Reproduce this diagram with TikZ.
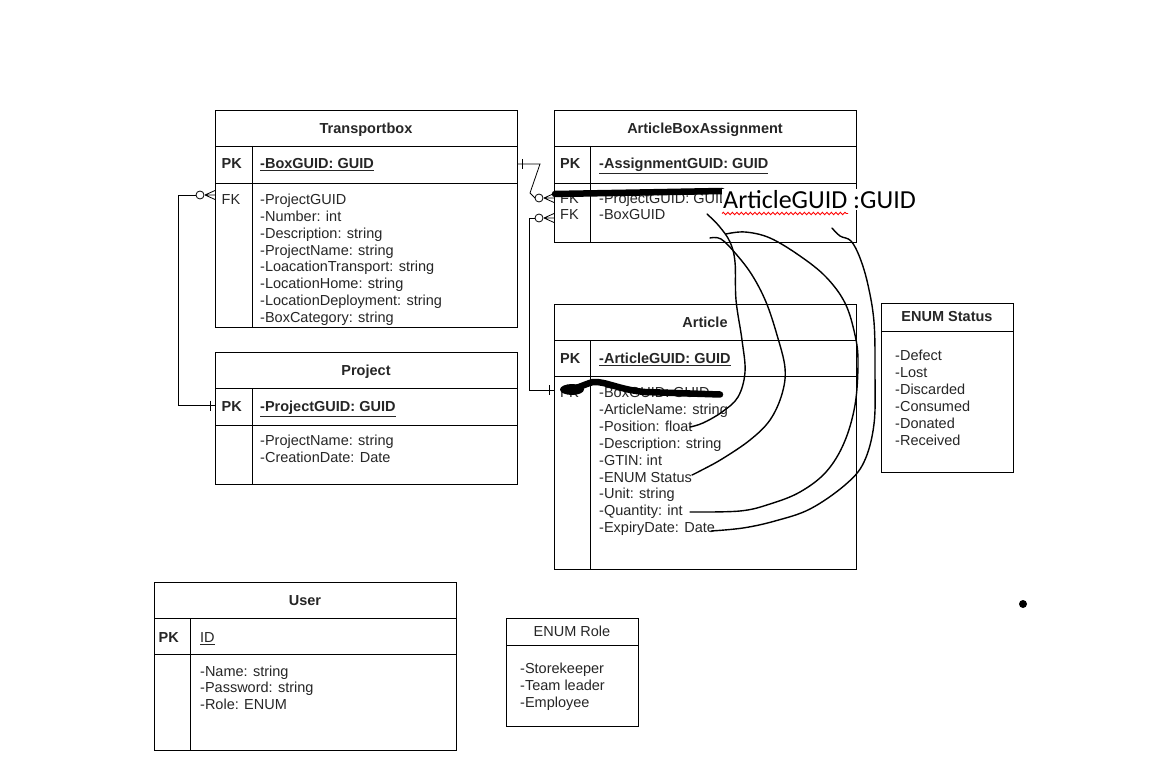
\documentclass[tikz,border=0pt]{standalone}
\usepackage{fontspec}
\setmainfont{Liberation Sans}
\newfontfamily\handfont{Carlito}
\usetikzlibrary{decorations.pathmorphing}
\newcommand\fs{\fontsize{14.5}{17}\selectfont}
\newcommand\zeromany[3]{% #1 name prefix, #2 x of entity border, #3 y
  \draw[conn] (#2-15,#3) circle (4pt);
  \draw[conn] (#2-10,#3) -- (#2,#3-4.5) (#2-10,#3) -- (#2,#3) (#2-10,#3) -- (#2,#3+4.5);
  \coordinate (#1) at (#2-19,#3);}
\begin{document}
\begin{tikzpicture}[x=1pt,y=-1pt,
  box/.style={draw=black, line width=0.8pt, inner sep=0pt, outer sep=0pt, anchor=north west},
  rule/.style={draw=black, line width=0.8pt},
  txt/.style={anchor=base west, inner sep=0pt, font=\fs, text=black!85},
  pkl/.style={anchor=base west, inner sep=0pt, font=\fs\bfseries, text=black!85},
  ttl/.style={anchor=base, inner sep=0pt, font=\fs\bfseries, text=black!85},
  ttlr/.style={anchor=base, inner sep=0pt, font=\fs, text=black!85},
  conn/.style={draw=black, line width=0.8pt},
  marker/.style={draw=black, line width=6.5pt, line cap=round, line join=round},
  hand/.style={draw=black, line width=1.4pt, line cap=round, line join=round},
]
\useasboundingbox (0,0) rectangle (1165,770);
\fill[white] (0,0) rectangle (1165,770);

% ---------- Transportbox ----------
\node[box, minimum width=302pt, minimum height=217pt] (tb) at (215,110) {};
\draw[rule] (215,146) -- (517,146) (215,183) -- (517,183) (252,146) -- (252,327);
\node[ttl] (tbt) at (366,134) {Transportbox};
\node[pkl] (tbpk) at (221.5,169) {PK};
\node[pkl] (tbpkf) at (260,169) {\underline{-BoxGUID: GUID}};
\node[txt] (tbfk) at (221.5,205) {FK};
\foreach \t [count=\i from 0] in {-ProjectGUID,-Number: int,-Description: string,-ProjectName: string,-LoacationTransport: string,-LocationHome: string,-LocationDeployment: string,-BoxCategory: string}
  \node[txt] (tbr\i) at (260,{205+16.75*\i}) {\t};

% ---------- ArticleBoxAssignment ----------
\node[box, minimum width=302pt, minimum height=132pt] (aba) at (554,110) {};
\draw[rule] (554,146) -- (856,146) (554,183) -- (856,183) (590,146) -- (590,242);
\node[ttl] (abat) at (705,134) {ArticleBoxAssignment};
\node[pkl] (abapk) at (560,169) {PK};
\node[pkl] (abapkf) at (599,169) {\underline{-AssignmentGUID: GUID}};
\node[txt] (abafk1) at (560,203.5) {FK};
\node[txt] (abafk2) at (560,220) {FK};
\node[txt] (abar1) at (599,203.5) {-ProjectGUID: GUID};
\node[txt] (abar2) at (599,220) {-BoxGUID};

% ---------- Article ----------
\node[box, minimum width=302pt, minimum height=265pt] (art) at (554,304) {};
\draw[rule] (554,340) -- (856,340) (554,376) -- (856,376) (590,340) -- (590,569);
\node[ttl] (artt) at (705,327.5) {Article};
\node[pkl] (artpk) at (560,363.5) {PK};
\node[pkl] (artpkf) at (599,363.5) {\underline{-ArticleGUID: GUID}};
\node[txt] (artfk) at (560,397.5) {FK};
\foreach \t [count=\i from 0] in {-BoxGUID: GUID,-ArticleName: string,-Position: float,-Description: string,-GTIN: int,-ENUM Status,-Unit: string,-Quantity: int,-ExpiryDate: Date}
  \node[txt] (artr\i) at (599,{397.5+16.9*\i}) {\t};

% ---------- ENUM Status ----------
\node[box, minimum width=132pt, minimum height=169pt] (es) at (881,303) {};
\draw[rule] (881,331) -- (1013,331);
\node[ttl] (est) at (947,321.7) {ENUM Status};
\foreach \t [count=\i from 0] in {-Defect,-Lost,-Discarded,-Consumed,-Donated,-Received}
  \node[txt] (esr\i) at (895,{360.7+17*\i}) {\t};

% ---------- Project ----------
\node[box, minimum width=302pt, minimum height=132pt] (pr) at (215,352) {};
\draw[rule] (215,388) -- (517,388) (215,425) -- (517,425) (252,388) -- (252,484);
\node[ttl] (prt) at (366,375.7) {Project};
\node[pkl] (prpk) at (221.5,411.7) {PK};
\node[pkl] (prpkf) at (260,411.7) {\underline{-ProjectGUID: GUID}};
\node[txt] (prr0) at (260,445.7) {-ProjectName: string};
\node[txt] (prr1) at (260,462.5) {-CreationDate: Date};

% ---------- User ----------
\node[box, minimum width=302pt, minimum height=168pt] (us) at (154,582) {};
\draw[rule] (154,618) -- (456,618) (154,654) -- (456,654) (190,618) -- (190,750);
\node[ttl] (ust) at (305,605.7) {User};
\node[pkl] (uspk) at (158.5,642.3) {PK};
\node[txt] (uspkf) at (200,642.3) {\underline{ID}};
\foreach \t [count=\i from 0] in {-Name: string,-Password: string,-Role: ENUM}
  \node[txt] (usr\i) at (200,{676+16.9*\i}) {\t};

% ---------- ENUM Role ----------
\node[box, minimum width=132pt, minimum height=108pt] (er) at (506,618) {};
\draw[rule] (506,645) -- (638,645);
\node[ttlr] (ert) at (572,636.7) {ENUM Role};
\foreach \t [count=\i from 0] in {-Storekeeper,-Team leader,-Employee}
  \node[txt] (err\i) at (520,{673.5+17*\i}) {\t};

% ---------- connectors ----------
\zeromany{tbFK}{215}{195}
\coordinate (prPK) at (215,405.7);
\draw[conn] (tbFK) -- (178,195) -- (178,405.7) -- (prPK);
\draw[conn] (210,400.7) -- (210,410.7);

\zeromany{abaFK1}{554}{198}
\coordinate (tbPK) at (517,164);
\draw[conn] (tbPK) -- (540,164) -- (530,193) -- (abaFK1);
\draw[conn] (522,159) -- (522,169);

\zeromany{abaFK2}{554}{218}
\coordinate (artFK) at (554,390);
\draw[conn] (abaFK2) -- (529.5,218) -- (529.5,390) -- (artFK);
\draw[conn] (549,385) -- (549,395);

% ---------- hand-drawn marks ----------
\draw[marker] (555,194) -- (640,192.5) -- (722,191);
\draw[marker] (564,390) .. controls (575,390) and (585,384) .. (593,382)
   .. controls (605,381) and (620,390) .. (645,392) -- (720,394.5);
\fill[black] (572,389.5) ellipse (12pt and 5.5pt);

\node[anchor=base west, inner sep=1pt, fill=white, font=\handfont\fontsize{26}{30}\selectfont] (note) at (722,208.5) {ArticleGUID :GUID};
\draw[red, line width=0.9pt, decorate, decoration={snake, amplitude=1.2pt, segment length=4.5pt}] (722,213.5) -- (848,213.5);

\draw[hand] plot[smooth, tension=0.6] coordinates {(707,214) (719,226) (730,242) (735,262) (736,300) (742,340) (745,372) (738,397) (722,412) (703,423) (690,427)};
\draw[hand] plot[smooth, tension=0.6] coordinates {(710,238) (721,239) (736,254) (752,275) (766,302) (777,335) (785,368) (782,394) (770,420) (750,440) (722,459) (700,471) (692,475)};
\draw[hand] plot[smooth, tension=0.6] coordinates {(726,234) (745,232) (770,238) (800,256) (826,277) (845,303) (855,335) (858,362) (855,405) (844,443) (826,472) (800,492) (770,504) (740,511) (690,512)};
\draw[hand] plot[smooth, tension=0.6] coordinates {(832,228) (840,236) (851,241) (860,258) (868,285) (874,322) (875,372) (874,424) (864,462) (845,485) (810,509) (775,521) (743,528) (711,531)};

\fill[black] (1023,604) circle (4pt);
\end{tikzpicture}
\end{document}
